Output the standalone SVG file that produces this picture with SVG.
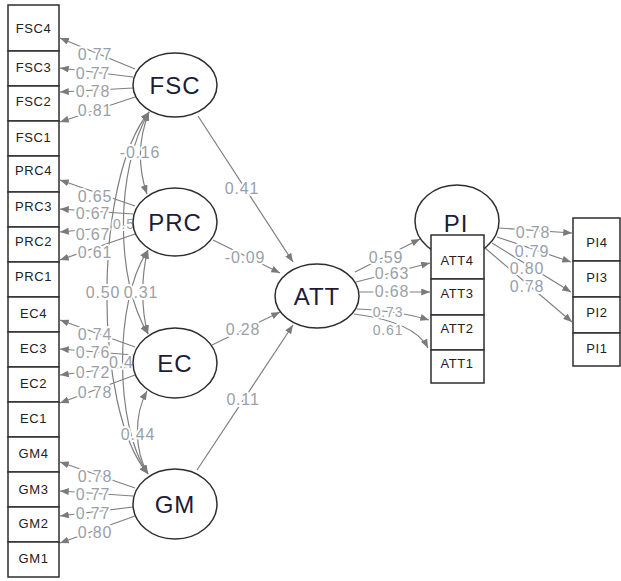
<svg xmlns="http://www.w3.org/2000/svg" width="621" height="581" viewBox="0 0 621 581">
<style>
.ln{fill:none;stroke:#808080;stroke-width:1.2}
.el{font-family:"Liberation Sans",Arial,sans-serif;font-size:16px;fill:#9aa0a8;stroke:#fff;stroke-width:4;paint-order:stroke;stroke-linejoin:round;text-anchor:middle;letter-spacing:0.8px}
.els{text-anchor:start}
.sm{font-size:14px}
.lat{fill:#fff;stroke:#2e2e2e;stroke-width:1.5}
.box{fill:#fff;stroke:#2e2e2e;stroke-width:1.5}
.lt{font-family:"Liberation Sans",Arial,sans-serif;font-size:24px;fill:#1c1c3a;text-anchor:middle;letter-spacing:1px}
.bt{font-family:"Liberation Sans",Arial,sans-serif;font-size:13px;fill:#222;text-anchor:middle;letter-spacing:0.6px}
</style>
<defs>
<marker id="ah" viewBox="0 0 10 8" refX="10" refY="4" markerWidth="9" markerHeight="7" markerUnits="userSpaceOnUse" orient="auto-start-reverse">
<path d="M0,0 L10,4 L0,8 z" fill="#7a7a7a"/>
</marker>
</defs>

<g id="connectors">
<!-- FSC loadings -->
<path class="ln" marker-end="url(#ah)" d="M135,69 L60,38"/>
<path class="ln" marker-end="url(#ah)" d="M133,77 L60,68"/>
<path class="ln" marker-end="url(#ah)" d="M133,88 L60,92"/>
<path class="ln" marker-end="url(#ah)" d="M135,97 L60,122"/>
<!-- PRC loadings -->
<path class="ln" marker-end="url(#ah)" d="M135,206 L60,180"/>
<path class="ln" marker-end="url(#ah)" d="M133,214 L60,209"/>
<path class="ln" marker-end="url(#ah)" d="M133,225 L60,232"/>
<path class="ln" marker-end="url(#ah)" d="M135,234 L60,260"/>
<!-- EC loadings -->
<path class="ln" marker-end="url(#ah)" d="M135,347 L60,320"/>
<path class="ln" marker-end="url(#ah)" d="M133,355 L60,349"/>
<path class="ln" marker-end="url(#ah)" d="M133,366 L60,375"/>
<path class="ln" marker-end="url(#ah)" d="M135,375 L60,403"/>
<!-- GM loadings -->
<path class="ln" marker-end="url(#ah)" d="M135,488 L60,462"/>
<path class="ln" marker-end="url(#ah)" d="M133,496 L60,491"/>
<path class="ln" marker-end="url(#ah)" d="M133,507 L60,516"/>
<path class="ln" marker-end="url(#ah)" d="M135,516 L60,543"/>
<!-- covariances -->
<path class="ln" marker-start="url(#ah)" marker-end="url(#ah)" d="M149,112 C138,140 138,168 147,194"/>
<path class="ln" marker-start="url(#ah)" marker-end="url(#ah)" d="M149,112 C115,170 115,280 148,334"/>
<path class="ln" marker-start="url(#ah)" marker-end="url(#ah)" d="M149,112 C93,180 93,410 148,474"/>
<path class="ln" marker-start="url(#ah)" marker-end="url(#ah)" d="M148,250 C141,275 141,310 148,334"/>
<path class="ln" marker-start="url(#ah)" marker-end="url(#ah)" d="M148,250 C114,300 114,425 148,474"/>
<path class="ln" marker-start="url(#ah)" marker-end="url(#ah)" d="M147,391 C134,415 134,450 148,474"/>
<!-- structural -->
<path class="ln" marker-end="url(#ah)" d="M198,116 L293,262"/>
<path class="ln" marker-end="url(#ah)" d="M213,240 L280,273"/>
<path class="ln" marker-end="url(#ah)" d="M212,345 L280,312"/>
<path class="ln" marker-end="url(#ah)" d="M197,470 L293,325"/>
<path class="ln" marker-end="url(#ah)" d="M355,272 L420,239"/>
<!-- ATT loadings -->
<path class="ln" marker-end="url(#ah)" d="M356,282 L430,263"/>
<path class="ln" marker-end="url(#ah)" d="M359,292 L430,292"/>
<path class="ln" marker-end="url(#ah)" d="M357,309 Q400,311 429,320"/>
<path class="ln" marker-end="url(#ah)" d="M354,314 Q415,322 428,348"/>
<!-- PI loadings -->
<path class="ln" marker-end="url(#ah)" d="M499,228 L572,233"/>
<path class="ln" marker-end="url(#ah)" d="M497,237 L571,262"/>
<path class="ln" marker-end="url(#ah)" d="M492,243 L571,292"/>
<path class="ln" marker-end="url(#ah)" d="M485,248 L572,322"/>

<!-- labels -->
<text class="el" x="95" y="60">0.77</text>
<text class="el" x="93" y="79">0.77</text>
<text class="el" x="93" y="97">0.78</text>
<text class="el" x="95" y="116">0.81</text>
<text class="el" x="95" y="202">0.65</text>
<text class="el" x="93" y="219">0.67</text>
<text class="el" x="93" y="240">0.67</text>
<text class="el" x="95" y="258">0.61</text>
<text class="el" x="95" y="340">0.74</text>
<text class="el" x="93" y="358">0.76</text>
<text class="el" x="93" y="378">0.72</text>
<text class="el" x="95" y="398">0.78</text>
<text class="el" x="95" y="482">0.78</text>
<text class="el" x="93" y="500">0.77</text>
<text class="el" x="93" y="519">0.77</text>
<text class="el" x="95" y="538">0.80</text>
<text class="el" x="140" y="158">-0.16</text>
<text class="el els sm" x="113" y="229">0.5</text>
<text class="el" x="103" y="298">0.50</text>
<text class="el" x="141" y="298">0.31</text>
<text class="el els" x="109" y="368">0.4</text>
<text class="el" x="138" y="440">0.44</text>
<text class="el" x="242" y="194">0.41</text>
<text class="el" x="245" y="263">-0.09</text>
<text class="el" x="243" y="335">0.28</text>
<text class="el" x="243" y="405">0.11</text>
<text class="el" x="386" y="263">0.59</text>
<text class="el" x="392" y="279">0.63</text>
<text class="el" x="392" y="297">0.68</text>
<text class="el sm" x="388" y="317">0.73</text>
<text class="el sm" x="388" y="335">0.61</text>
<text class="el" x="533" y="238">0.78</text>
<text class="el" x="532" y="257">0.79</text>
<text class="el" x="527" y="274">0.80</text>
<text class="el" x="527" y="292">0.78</text>
</g>

<g id="FSC"><ellipse class="lat" cx="175" cy="85" rx="42" ry="32"/><text class="lt" x="175" y="94">FSC</text></g>
<g id="PRC"><ellipse class="lat" cx="175" cy="222" rx="42" ry="34"/><text class="lt" x="175" y="231">PRC</text></g>
<g id="EC"><ellipse class="lat" cx="175" cy="363" rx="42" ry="35"/><text class="lt" x="175" y="372">EC</text></g>
<g id="GM"><ellipse class="lat" cx="175" cy="504" rx="42" ry="35"/><text class="lt" x="175" y="513">GM</text></g>
<g id="ATT"><ellipse class="lat" cx="317" cy="296" rx="42" ry="32"/><text class="lt" x="317" y="305">ATT</text></g>
<g id="PI"><ellipse class="lat" cx="457" cy="221" rx="42" ry="36"/><text class="lt" x="456" y="232">PI</text></g>

<g id="FSC4"><rect class="box" x="8" y="5" width="51" height="46"/><text class="bt" x="33.5" y="33">FSC4</text></g>
<g id="FSC3"><rect class="box" x="8" y="51" width="51" height="35"/><text class="bt" x="33.5" y="72">FSC3</text></g>
<g id="FSC2"><rect class="box" x="8" y="86" width="51" height="35"/><text class="bt" x="33.5" y="106">FSC2</text></g>
<g id="FSC1"><rect class="box" x="8" y="121" width="51" height="35"/><text class="bt" x="33.5" y="142">FSC1</text></g>
<g id="PRC4"><rect class="box" x="8" y="156" width="51" height="36"/><text class="bt" x="33.5" y="175">PRC4</text></g>
<g id="PRC3"><rect class="box" x="8" y="192" width="51" height="35"/><text class="bt" x="33.5" y="211">PRC3</text></g>
<g id="PRC2"><rect class="box" x="8" y="227" width="51" height="35"/><text class="bt" x="33.5" y="246">PRC2</text></g>
<g id="PRC1"><rect class="box" x="8" y="262" width="51" height="35"/><text class="bt" x="33.5" y="281">PRC1</text></g>
<g id="EC4"><rect class="box" x="8" y="297" width="51" height="35"/><text class="bt" x="33.5" y="318">EC4</text></g>
<g id="EC3"><rect class="box" x="8" y="332" width="51" height="35"/><text class="bt" x="33.5" y="353">EC3</text></g>
<g id="EC2"><rect class="box" x="8" y="367" width="51" height="35"/><text class="bt" x="33.5" y="388">EC2</text></g>
<g id="EC1"><rect class="box" x="8" y="402" width="51" height="35"/><text class="bt" x="33.5" y="423">EC1</text></g>
<g id="GM4"><rect class="box" x="8" y="437" width="51" height="35"/><text class="bt" x="33.5" y="458">GM4</text></g>
<g id="GM3"><rect class="box" x="8" y="472" width="51" height="35"/><text class="bt" x="33.5" y="494">GM3</text></g>
<g id="GM2"><rect class="box" x="8" y="507" width="51" height="35"/><text class="bt" x="33.5" y="528">GM2</text></g>
<g id="GM1"><rect class="box" x="8" y="542" width="51" height="35"/><text class="bt" x="33.5" y="563">GM1</text></g>

<g id="ATT4"><rect class="box" x="431" y="235" width="53" height="44"/><text class="bt" x="457" y="265">ATT4</text></g>
<g id="ATT3"><rect class="box" x="431" y="279" width="53" height="36"/><text class="bt" x="457" y="298">ATT3</text></g>
<g id="ATT2"><rect class="box" x="431" y="315" width="53" height="35"/><text class="bt" x="457" y="333">ATT2</text></g>
<g id="ATT1"><rect class="box" x="431" y="350" width="53" height="33"/><text class="bt" x="457" y="368">ATT1</text></g>

<g id="PI4"><rect class="box" x="573" y="218" width="47" height="43"/><text class="bt" x="597" y="247">PI4</text></g>
<g id="PI3"><rect class="box" x="573" y="261" width="47" height="36"/><text class="bt" x="597" y="282">PI3</text></g>
<g id="PI2"><rect class="box" x="573" y="297" width="47" height="36"/><text class="bt" x="597" y="317">PI2</text></g>
<g id="PI1"><rect class="box" x="573" y="333" width="47" height="33"/><text class="bt" x="597" y="353">PI1</text></g>
</svg>
